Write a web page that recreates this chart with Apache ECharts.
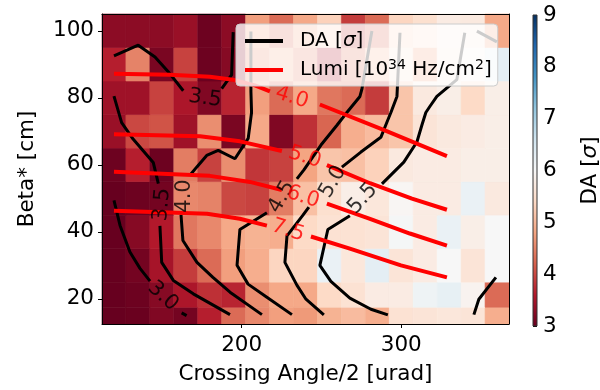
<!DOCTYPE html>
<html><head><meta charset="utf-8">
<script src="https://cdn.jsdelivr.net/npm/echarts@6/dist/echarts.min.js"></script>
<style>html,body{margin:0;padding:0;background:#fff}#c{width:600px;height:390px}</style>
</head><body><div id="c"></div>
<script>
// ---------------- data ----------------
const crossingAngles = [120,135,150,165,180,195,210,225,240,255,270,285,300,315,330,345,360];
const betas = [15,20,30,40,50,60,70,80,90,100];
// DA values, one row per beta (ascending), one column per crossing angle
const daRow15  = [3.0,3.02,3.2,3.1,3.65,4.3,4.55,4.75,4.7,4.95,5.05,4.9,5.55,5.6,5.65,5.6,4.9];
const daRow20  = [3.0,3.05,3.25,3.55,3.8,3.7,4.6,4.85,4.85,5.4,5.55,5.75,5.75,6.15,6.25,5.9,4.3];
const daRow30  = [3.0,3.1,3.5,3.9,4.3,4.75,4.9,5.35,5.35,6.2,5.65,6.3,5.6,5.75,6.0,5.6,6.0];
const daRow40  = [3.0,3.25,3.6,4.4,4.55,4.85,4.95,4.9,5.4,5.55,5.55,5.6,6.05,5.75,6.2,5.8,6.0];
const daRow50  = [3.0,3.05,3.1,4.55,4.5,4.0,3.95,4.45,5.1,5.5,5.8,5.65,5.95,5.75,5.75,6.2,5.7];
const daRow60  = [3.05,3.65,3.05,4.45,3.95,4.6,3.85,3.95,4.8,5.15,5.1,5.3,5.7,5.75,5.75,5.8,5.8];
const daRow70  = [3.4,4.0,4.1,3.45,4.6,3.15,4.85,3.2,3.8,4.25,4.9,5.05,5.15,5.6,5.7,5.75,5.8];
const daRow80  = [3.45,3.45,3.95,3.55,3.2,3.7,4.75,4.3,4.85,4.4,4.3,3.9,5.15,5.7,5.8,5.4,5.8];
const daRow90  = [3.65,4.5,3.15,3.95,3.05,3.25,4.6,4.9,4.5,3.6,4.4,5.0,5.6,4.8,5.7,5.9,6.3];
const daRow100 = [3.3,3.3,3.3,3.4,3.05,3.3,4.75,4.3,4.85,5.3,3.9,4.3,5.35,5.5,5.75,5.7,4.85];
const daRows = [daRow15,daRow20,daRow30,daRow40,daRow50,daRow60,daRow70,daRow80,daRow90,daRow100];

const xTicks = [200,300];
const yTicks = [20,40,60,80,100];
const cbarTicks = [3,4,5,6,7,8,9];

// DA contour polylines [crossing angle, beta] (gaps where labels sit)
const da30 = [[[120,49.4],[123.8,41.9],[130,34],[136.3,29.1],[142.6,25.3]],[[162.4,15.8],[165.5,15]]];
const da35 = [[[120,92.5],[135.2,95.7],[145.7,92.2],[154,87.8],[163.4,82.1]],
              [[187.5,82.7],[193.7,86.8],[194.7,99.6]],
              [[120,80.5],[124.8,72.6],[132.1,67.6],[144.6,60.7],[147.8,54.4]],
              [[148.8,41.8],[149.9,30.9],[157.2,25.5],[169.7,21.5],[192.7,15.3]]];
const da40 = [[[205.8,99.8],[205.8,81.9],[206.2,75.6],[204.1,67.9],[195.8,61.8],[185.3,64.3],[178.1,62.8],[171.8,59.3],[167.6,56.9]],
              [[162,45.1],[163.2,37.4],[172,30.9],[182,26.4],[192.7,22],[212.7,15.3]]];
const da45 = [[[281.6,99.9],[275.3,82.5],[274.1,80.4],[265.9,75.6],[259.7,71.8],[249.7,65.9],[239,58.5],[234.6,55.8]],
              [[215.8,45.7],[198.9,40.7],[197.1,30],[204,24.4],[215.8,20.5],[231.5,15.3]],
              [[345.5,15.3],[348.6,19.9],[359.3,26.4]]];
const da50 = [[[299.2,99.4],[297.3,80.4],[293.5,75.6],[291,72.7],[287.2,68.2],[274.7,63.8],[262.8,59.3]],
              [[242.1,47.4],[238.4,45],[228.4,38.8],[227.1,30.9],[234.6,24.1],[240.3,19.9],[251.5,15.2]]];
const da55 = [[[339.8,99.4],[334.8,85.4],[322.3,80.4],[317.9,77.4],[315.4,75.6],[312.9,71.8],[309.8,66.8],[301.6,60.8],[287.9,54.3]],
              [[267.8,44.8],[254,40.7],[249,30],[255.9,25.2],[267.8,20.2],[281,16.9],[291.6,15.2]],
              [[347.4,99.9],[359.9,96.7]]];
const daContours = [da30, da35, da40, da45, da50, da55];
// [x, beta, text, angle]
const daLabels = [[150.7,20.8,'3.0',-42],[177,79.8,'3.5',-8],[150.1,48.1,'3.5',85],[164.5,50.7,'4.0',90],
                  [225.2,50.4,'4.5',60],[257.2,54.9,'5.0',60],[275.9,49.9,'5.5',48]];

// Luminosity contour polylines
const lumi40 = [[[120,87.2],[155.1,86.9],[180.1,86.3],[194.5,85.4],[208.3,83.7],[217.7,81.9]],[[249,78],[289.7,70.3],[328.6,62.6]]];
const lumi50 = [[[120,69.1],[173.9,68.5],[198.9,67],[225.2,64.1]],[[253.4,59.9],[280.4,54.5],[306.7,49.9],[328.6,46.6]]];
const lumi60 = [[[120,57.9],[180.1,56.7],[205.2,54.9],[225.2,52.5]],[[253.4,48.4],[280.4,43.9],[305.4,39.5],[328.6,35.9]]];
const lumi75 = [[[120,46.3],[178.3,45.4],[198.9,43.9],[215.8,41.85]],[[243.4,38.6],[267.8,35],[299.8,30],[328.6,26.4]]];
const lumiContours = [lumi40, lumi50, lumi60, lumi75];
const lumiLabels = [[231.5,80.1,'4.0',-18],[239.6,62.3,'5.0',-18],[238.4,50.4,'6.0',-18],[229,40.4,'7.5',-18]];

// ---------------- build ----------------
const RdBu = ['#67001f','#b2182b','#d6604d','#f4a582','#fddbc7','#f7f7f7','#d1e5f0','#92c5de','#4393c3','#2166ac','#053061'];
function edges(c){const n=c.length,e=[c[0]-(c[1]-c[0])/2];for(let i=1;i<n;i++)e.push((c[i-1]+c[i])/2);e.push(c[n-1]+(c[n-1]-c[n-2])/2);return e;}
const xe = edges(crossingAngles), ye = edges(betas);
const cells = [];
daRows.forEach((row,j)=>row.forEach((v,i)=>cells.push([crossingAngles[i],betas[j],v,i,j])));

const FONT = 'DejaVu Sans';
const FS = 21.5;
const series = [];
series.push({
  type:'custom', xAxisIndex:0, yAxisIndex:0, data:cells, z:1, silent:true,
  renderItem:function(params,api){
    const i=api.value(3), j=api.value(4);
    const p0=api.coord([xe[i],ye[j+1]]), p1=api.coord([xe[i+1],ye[j]]);
    const c=api.visual('color');
    return {type:'rect',shape:{x:p0[0],y:p0[1],width:p1[0]-p0[0],height:p1[1]-p0[1]},
            style:{fill:c,stroke:c,lineWidth:0.6}};
  }
});
daContours.forEach(segs=>segs.forEach(seg=>series.push({
  type:'line', name:'DA', xAxisIndex:0, yAxisIndex:0, data:seg, symbol:'none', z:3, silent:true,
  itemStyle:{color:'#000'}, lineStyle:{color:'#000',width:3}
})));
lumiContours.forEach(segs=>segs.forEach(seg=>series.push({
  type:'line', name:'Lumi', xAxisIndex:0, yAxisIndex:0, data:seg, symbol:'none', z:3, silent:true,
  itemStyle:{color:'#ff0000'}, lineStyle:{color:'#ff0000',width:4}
})));
function labelSeries(list,color){
  return {type:'scatter', xAxisIndex:0, yAxisIndex:0, symbolSize:1, z:3, silent:true,
    itemStyle:{color:'rgba(0,0,0,0)'},
    data:list.map(d=>({value:[d[0],d[1]],label:{show:true,position:'inside',formatter:d[2],rotate:d[3],
      color:color,fontSize:21,fontFamily:FONT}}))};
}
series.push(labelSeries(daLabels,'#000'));
series.push(labelSeries(lumiLabels,'#ff0000'));
// colorbar
series.push({
  type:'custom', xAxisIndex:2, yAxisIndex:2, data:[[0]], silent:true,
  renderItem:function(params,api){
    const a=api.coord([0,cbarTicks[cbarTicks.length-1]]), b=api.coord([1,cbarTicks[0]]);
    const stops=RdBu.map((c,k)=>({offset:1-k/(RdBu.length-1),color:c}));
    return {type:'rect',shape:{x:a[0],y:a[1],width:b[0]-a[0],height:b[1]-a[1]},
      style:{fill:new echarts.graphic.LinearGradient(0,0,0,1,stops.slice().reverse()),stroke:'#333',lineWidth:1}};
  }
});

const tickLabel = {fontSize:FS,color:'#000',fontFamily:FONT};
const chart = echarts.init(document.getElementById('c'),null,{renderer:'canvas'});
chart.setOption({
  animation:false,
  grid:[{left:102,right:91,top:14,bottom:64},{left:533,width:16,top:15,bottom:64}],
  visualMap:{type:'continuous',show:false,min:3,max:9,dimension:2,seriesIndex:0,inRange:{color:RdBu}},
  legend:{
    show:true, orient:'vertical', left:236, top:24, data:['DA','Lumi'], icon:'rect',
    itemWidth:38, itemHeight:4, itemGap:7, padding:[7,6,6,9],
    backgroundColor:'rgba(255,255,255,0.8)', borderColor:'#cccccc', borderWidth:1, borderRadius:4,
    formatter:n=> n==='DA' ? 'DA [{i|σ}]' : 'Lumi [10{s|34} Hz/cm{s|2}]',
    textStyle:{fontSize:20,color:'#000',fontFamily:FONT,padding:[0,0,0,12],
      rich:{i:{fontSize:20,fontStyle:'italic',fontFamily:FONT},s:{fontSize:14,fontFamily:FONT,padding:[0,0,10,0]}}}
  },
  xAxis:[
    {type:'value',gridIndex:0,min:xe[0],max:xe[xe.length-1],position:'bottom',z:5,
     name:'Crossing Angle/2 [urad]',nameLocation:'middle',nameGap:39,nameTextStyle:{fontSize:FS,color:'#000',fontFamily:FONT},
     axisLine:{show:true,onZero:false,lineStyle:{color:'#000',width:1}},
     axisTick:{show:true,length:4,customValues:xTicks,lineStyle:{color:'#000'}},
     axisLabel:{customValues:xTicks,margin:10,...tickLabel},splitLine:{show:false}},
    {type:'value',gridIndex:0,min:xe[0],max:xe[xe.length-1],position:'top',z:5,
     axisLine:{show:true,onZero:false,lineStyle:{color:'#000',width:1}},axisTick:{show:false},axisLabel:{show:false},splitLine:{show:false}},
    {type:'value',gridIndex:1,min:0,max:1,show:false}
  ],
  yAxis:[
    {type:'value',gridIndex:0,min:ye[0],max:ye[ye.length-1],position:'left',z:5,
     name:'Beta* [cm]',nameLocation:'middle',nameGap:64,nameTextStyle:{fontSize:FS,color:'#000',fontFamily:FONT},
     axisLine:{show:true,onZero:false,lineStyle:{color:'#000',width:1}},
     axisTick:{show:true,length:4,customValues:yTicks,lineStyle:{color:'#000'}},
     axisLabel:{customValues:yTicks,margin:8,...tickLabel},splitLine:{show:false}},
    {type:'value',gridIndex:0,min:ye[0],max:ye[ye.length-1],position:'right',z:5,
     axisLine:{show:true,onZero:false,lineStyle:{color:'#000',width:1}},axisTick:{show:false},axisLabel:{show:false},splitLine:{show:false}},
    {type:'value',gridIndex:1,min:cbarTicks[0],max:cbarTicks[cbarTicks.length-1],interval:1,position:'right',
     name:'DA [{i|σ}]',nameLocation:'middle',nameGap:42,nameRotate:90,
     nameTextStyle:{fontSize:FS,color:'#000',fontFamily:FONT,rich:{i:{fontSize:FS,fontStyle:'italic',fontFamily:FONT}}},
     axisLine:{show:false},axisTick:{show:true,length:4,lineStyle:{color:'#000'}},
     axisLabel:{margin:6,...tickLabel},splitLine:{show:false}}
  ],
  series:series
});
</script></body></html>
